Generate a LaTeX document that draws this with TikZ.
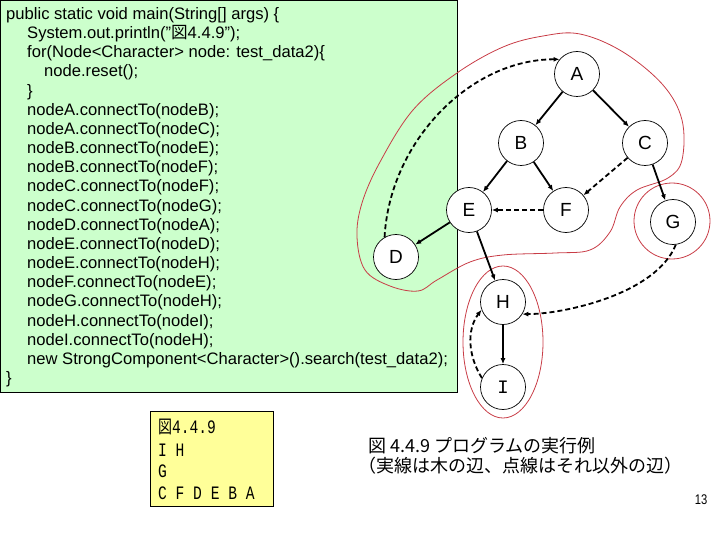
\documentclass[tikz,border=0pt]{standalone}
\usepackage{fontspec}
\setmainfont{Liberation Sans}
\newfontfamily\cjk{Noto Sans CJK JP}
\newfontfamily\monof{Liberation Mono}
\usetikzlibrary{arrows.meta}
\definecolor{boxgreen}{RGB}{204,255,204}
\definecolor{boxyellow}{RGB}{255,255,153}
\definecolor{compred}{RGB}{200,60,70}
\begin{document}
\begin{tikzpicture}[x=1pt,y=-1pt,
  vtx/.style={circle,draw,fill=white,minimum size=45pt,inner sep=0pt,line width=0.7pt,font=\fontsize{19}{19}\selectfont},
  tree/.style={line width=1.8pt,-{Latex[length=6pt,width=5pt]}},
  back/.style={tree,dash pattern=on 5pt off 3pt},
  comp/.style={draw=compred,line width=0.8pt},
  code/.style={anchor=base west,inner sep=0pt,font=\fontsize{16.6}{18}\selectfont},
  outtxt/.style={anchor=base west,inner sep=0pt,font=\monof\fontsize{14.6}{16}\selectfont},
  capt/.style={anchor=base west,inner sep=0pt,font=\cjk\fontsize{18}{18}\selectfont}]
\useasboundingbox (0,0) rectangle (720,540);
% code box
\draw[fill=boxgreen,line width=0.8pt] (0.5,0.5) rectangle (457,392);
\node[code] (c1) at (6,19.5) {public static void main(String[] args) \{};
\node[code] (c2) at (27,38.7) {System.out.println("{\cjk 図}4.4.9");};
\node[code] (c3) at (27,57.8) {for(Node<Character> node: test\_data2)\{};
\node[code] (c4) at (44,77.0) {node.reset();};
\node[code] (c5) at (27,96.1) {\}};
\node[code] (c6) at (27,115.3) {nodeA.connectTo(nodeB);};
\node[code] (c7) at (27,134.5) {nodeA.connectTo(nodeC);};
\node[code] (c8) at (27,153.6) {nodeB.connectTo(nodeE);};
\node[code] (c9) at (27,172.8) {nodeB.connectTo(nodeF);};
\node[code] (c10) at (27,191.9) {nodeC.connectTo(nodeF);};
\node[code] (c11) at (27,211.1) {nodeC.connectTo(nodeG);};
\node[code] (c12) at (27,230.3) {nodeD.connectTo(nodeA);};
\node[code] (c13) at (27,249.4) {nodeE.connectTo(nodeD);};
\node[code] (c14) at (27,268.6) {nodeE.connectTo(nodeH);};
\node[code] (c15) at (27,287.7) {nodeF.connectTo(nodeE);};
\node[code] (c16) at (27,306.9) {nodeG.connectTo(nodeH);};
\node[code] (c17) at (27,326.1) {nodeH.connectTo(nodeI);};
\node[code] (c18) at (27,345.2) {nodeI.connectTo(nodeH);};
\node[code] (c19) at (27,364.4) {new StrongComponent<Character>().search(test\_data2);};
\node[code] (c20) at (6,383.5) {\}};
% output box
\draw[fill=boxyellow,line width=0.8pt] (150,411.5) rectangle (273,506.5);
\node[outtxt] (o1) at (158,433) {\scalebox{1}[1.3]{{\cjk\fontsize{14}{14}\selectfont 図}4.4.9}};
\node[outtxt] (o2) at (158,456) {\scalebox{1}[1.3]{I H}};
\node[outtxt] (o3) at (158,477) {\scalebox{1}[1.3]{G}};
\node[outtxt] (o4) at (158,499) {\scalebox{1}[1.3]{C F D E B A}};
% caption
\node[capt] (cap1) at (368,452) {図 4.4.9 プログラムの実行例};
\node[capt] (cap2) at (358,472) {（実線は木の辺、点線はそれ以外の辺）};
\node[inner sep=0pt,font=\fontsize{14}{14}\selectfont] (pg) at (701,500) {\scalebox{0.8}[1]{13}};
% components
\draw[comp] plot[smooth cycle,tension=0.6] coordinates {
 (580,34) (623,52) (663,85) (682,120) (682,160) (668,178) (637,190) (620,207)
 (610,232) (590,250) (555,253) (503,255) (470,262) (437,280) (418,291) (390,286)
 (365,270) (357,237) (362,203) (380,162) (413,110) (457,73) (503,47) (543,36)};
\draw[comp] (672,221) circle (38pt);
\draw[comp] (503,342) ellipse (40pt and 76pt);
% vertices
\node[vtx] (A) at (577,74) {A};
\node[vtx] (B) at (521,143) {B};
\node[vtx] (C) at (645,143) {C};
\node[vtx] (E) at (469,210) {E};
\node[vtx] (F) at (566,210) {F};
\node[vtx] (G) at (673,222) {G};
\node[vtx] (D) at (396,257) {D};
\node[vtx] (H) at (503,302) {H};
\node[vtx,font=\monof\fontsize{19}{19}\selectfont] (I) at (503,387) {I};
% tree edges
\draw[tree] (A) -- (B);
\draw[tree] (A) -- (C);
\draw[tree] (B) -- (E);
\draw[tree] (B) -- (F);
\draw[tree] (C) -- (G);
\draw[tree] (E) -- (D);
\draw[tree] (E) -- (H);
\draw[tree] (H) -- (I);
% other edges
\draw[back] (C) -- (F);
\draw[back] (F) -- (E);
\draw[back] (D.120) .. controls +(5,-95) and +(-90,0) .. (A.140);
\draw[back] (G.-83) .. controls +(-20,50) and +(40,0) .. (H.-32);
\draw[back] (I.157) .. controls +(-14,-22) and +(-15,20) .. (H.200);
\end{tikzpicture}
\end{document}
